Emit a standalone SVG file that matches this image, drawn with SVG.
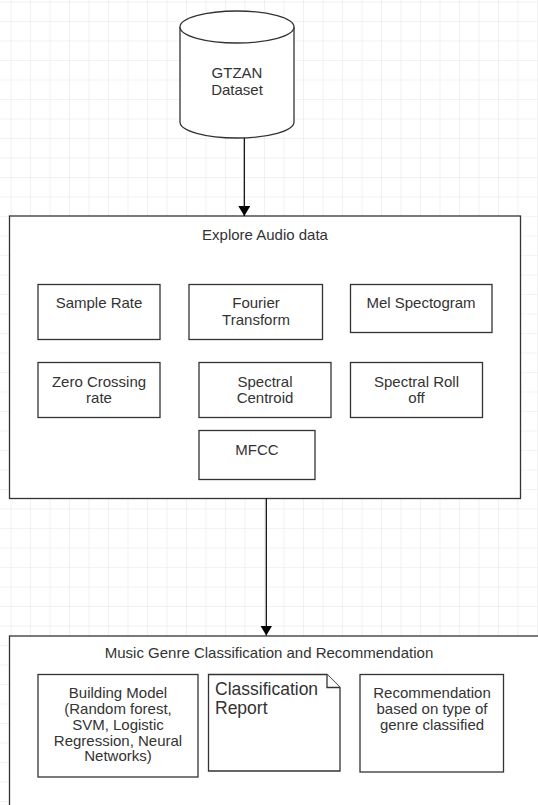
<svg xmlns="http://www.w3.org/2000/svg" width="538" height="805" viewBox="0 0 538 805">
  <style>
    .shape { fill: #ffffff; stroke: #333333; stroke-width: 1.3; }
    .edge { fill: none; stroke: #000000; stroke-width: 1.2; }
    text { font-family: "Liberation Sans", Arial, sans-serif; font-size: 15px; fill: #333333; }
    .c { text-anchor: middle; }
    .big { font-size: 17.5px; }
  </style>
  <defs>
    <pattern id="grid" x="10.5" y="1.5" width="19.5" height="19.5" patternUnits="userSpaceOnUse">
      <path d="M 0 0 H 19.5 M 0 0 V 19.5" fill="none" stroke="#e8e8e8" stroke-width="1.2"/>
    </pattern>
    <marker id="arrow" viewBox="0 0 10 12" refX="10" refY="6" markerWidth="10" markerHeight="12" markerUnits="userSpaceOnUse" orient="auto">
      <path d="M 0 0 L 10 6 L 0 12 Z" fill="#000000"/>
    </marker>
  </defs>

  <!-- canvas -->
  <rect x="0" y="0" width="538" height="805" fill="#ffffff"/>
  <rect x="0" y="0" width="538" height="805" fill="url(#grid)"/>

  <!-- data source -->
  <g id="gtzan-dataset">
    <path class="shape" d="M 180 27 A 57 16 0 0 1 294 27 V 122 A 57 16 0 0 1 180 122 Z"/>
    <path class="shape" fill="none" d="M 180 27 A 57 16 0 0 0 294 27"/>
    <text class="c" x="237" y="78">GTZAN</text>
    <text class="c" x="237" y="95">Dataset</text>
  </g>

  <!-- exploration container -->
  <g id="explore-audio">
    <rect class="shape" x="9.5" y="216" width="511" height="282.5"/>
    <text class="c" x="265" y="240">Explore Audio data</text>
  </g>
  <g id="sample-rate">
    <rect class="shape" x="38" y="284.5" width="122" height="55"/>
    <text class="c" x="99" y="308">Sample Rate</text>
  </g>
  <g id="fourier-transform">
    <rect class="shape" x="189" y="284.5" width="133.5" height="55"/>
    <text class="c" x="256" y="308">Fourier</text>
    <text class="c" x="256" y="325">Transform</text>
  </g>
  <g id="mel-spectogram">
    <rect class="shape" x="350.5" y="284.5" width="141.5" height="48"/>
    <text class="c" x="421" y="308">Mel Spectogram</text>
  </g>
  <g id="zero-crossing">
    <rect class="shape" x="38" y="362.5" width="122" height="55"/>
    <text class="c" x="99" y="386.5">Zero Crossing</text>
    <text class="c" x="99" y="403">rate</text>
  </g>
  <g id="spectral-centroid">
    <rect class="shape" x="199" y="362.5" width="132" height="55"/>
    <text class="c" x="265" y="386.5">Spectral</text>
    <text class="c" x="265" y="403">Centroid</text>
  </g>
  <g id="spectral-rolloff">
    <rect class="shape" x="350.5" y="362.5" width="132" height="55"/>
    <text class="c" x="416.5" y="386.5">Spectral Roll</text>
    <text class="c" x="416.5" y="403">off</text>
  </g>
  <g id="mfcc">
    <rect class="shape" x="199" y="430.5" width="116" height="49"/>
    <text class="c" x="257" y="455">MFCC</text>
  </g>

  <!-- classification container -->
  <g id="genre-classification">
    <rect class="shape" x="9.5" y="636" width="540" height="190"/>
    <text class="c" x="269" y="658">Music Genre Classification and Recommendation</text>
  </g>
  <g id="building-model">
    <rect class="shape" x="38" y="674.5" width="160" height="102.5"/>
    <text class="c" x="118" y="698">Building Model</text>
    <text class="c" x="118" y="714">(Random forest,</text>
    <text class="c" x="118" y="729.5">SVM, Logistic</text>
    <text class="c" x="118" y="745.5">Regression, Neural</text>
    <text class="c" x="118" y="761">Networks)</text>
  </g>
  <g id="classification-report">
    <path class="shape" d="M 208.5 674.5 H 327 L 340 687.5 V 771 H 208.5 Z"/>
    <path class="shape" fill="none" d="M 327 674.5 V 687.5 H 340"/>
    <text class="big" x="215" y="695">Classification</text>
    <text class="big" x="215" y="713.5">Report</text>
  </g>
  <g id="recommendation">
    <rect class="shape" x="360" y="674.5" width="143.5" height="97.5"/>
    <text class="c" x="432" y="698">Recommendation</text>
    <text class="c" x="432" y="714">based on type of</text>
    <text class="c" x="432" y="730">genre classified</text>
  </g>

  <!-- connectors -->
  <g id="connectors">
    <path class="edge" d="M 244.3 138 V 216" marker-end="url(#arrow)"/>
    <path class="edge" d="M 266.3 498.5 V 635.5" marker-end="url(#arrow)"/>
  </g>
</svg>
